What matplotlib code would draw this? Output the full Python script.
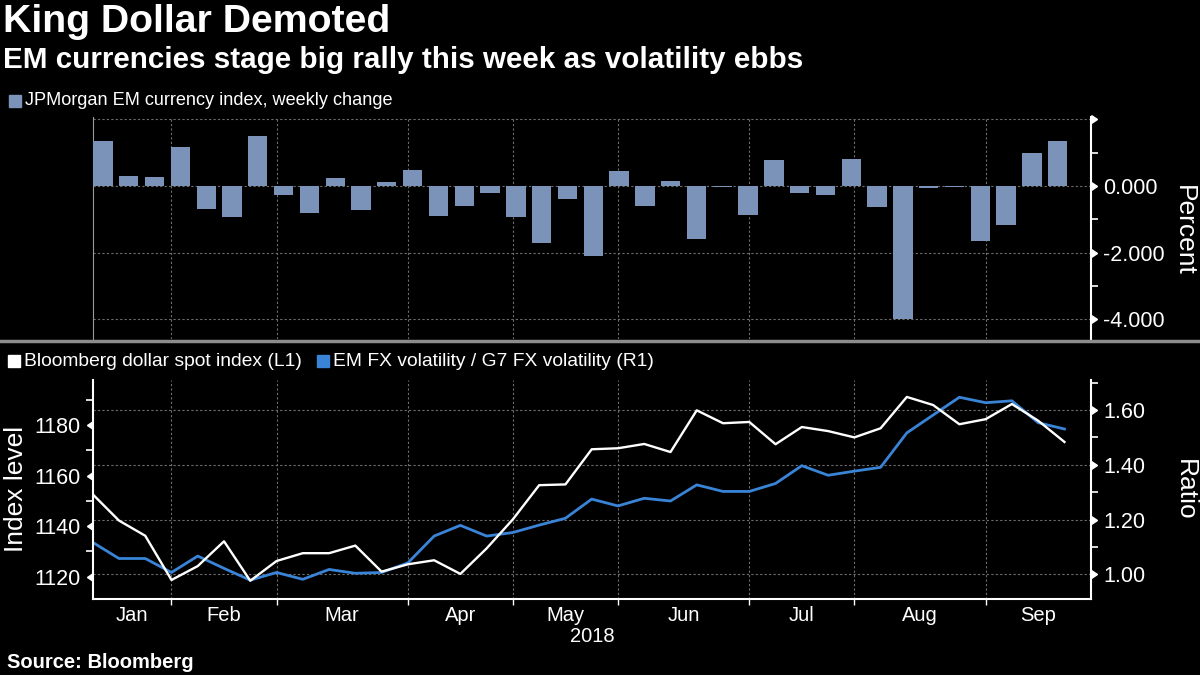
import matplotlib
matplotlib.use('Agg')
import matplotlib.pyplot as plt
import matplotlib.transforms as mtrans
from matplotlib.lines import Line2D
from matplotlib.patches import Rectangle
from matplotlib.ticker import FuncFormatter, FixedLocator
from matplotlib.markers import CARETRIGHTBASE, CARETLEFTBASE
import pandas as pd

# ---------------- data ----------------
weekly_change = [1.35, 0.30, 0.27, 1.17, -0.68, -0.92, 1.50, -0.26,
                 -0.81, 0.24, -0.71, 0.12, 0.48, -0.90, -0.59, -0.20,
                 -0.92, -1.70, -0.38, -2.09, 0.45, -0.59, 0.15, -1.58,
                 -0.02, -0.86, 0.78, -0.20, -0.26, 0.81, -0.62, -4.00,
                 -0.05, -0.02, -1.64, -1.16, 0.99, 1.35]
dollar_index = [1152.6, 1142.2, 1136.2, 1118.7, 1124.2, 1134.0, 1118.4, 1126.2,
                1129.3, 1129.3, 1132.3, 1122.0, 1124.9, 1126.5, 1121.1, 1131.2,
                1142.7, 1156.2, 1156.5, 1170.4, 1170.8, 1172.5, 1169.3, 1185.8,
                1180.7, 1181.2, 1172.4, 1179.2, 1177.6, 1175.1, 1178.7, 1191.1,
                1187.9, 1180.3, 1182.3, 1188.3, 1181.7, 1173.3]
vol_ratio = [1.117, 1.058, 1.058, 1.007, 1.067, 1.022, 0.979, 1.007,
             0.982, 1.018, 1.004, 1.007, 1.042, 1.140, 1.179, 1.140,
             1.153, 1.180, 1.205, 1.275, 1.250, 1.278, 1.268, 1.327,
             1.303, 1.303, 1.332, 1.397, 1.362, 1.377, 1.391, 1.517,
             1.582, 1.647, 1.627, 1.634, 1.554, 1.531]
month_labels = ['Jan', 'Feb', 'Mar', 'Apr', 'May', 'Jun', 'Jul', 'Aug', 'Sep']
dates = pd.date_range('2018-01-05', periods=len(vol_ratio), freq='7D')

pct_ticks = [2, 0, -2, -4]
pct_minor = [1, -1, -3]
idx_ticks = [1120, 1140, 1160, 1180]
idx_minor = [1130, 1150, 1170, 1190]
ratio_ticks = [1.0, 1.2, 1.4, 1.6]
ratio_minor = [1.1, 1.3, 1.5, 1.7]

# ---------------- style ----------------
plt.rcParams['font.family'] = ['Liberation Sans', 'DejaVu Sans']
BG = 'black'
BAR_C = '#7b93b8'
BLUE = '#3a84d8'
GRID = '#6e6e6e'
FG = 'white'

W, H = 1200, 675
fig = plt.figure(figsize=(W / 100, H / 100), dpi=100, facecolor=BG)


def fx(px):
    return px / W


def fy(py):
    return 1 - py / H


left_px, right_px = 92.7, 1090.7
ax_top = fig.add_axes([fx(left_px), fy(338.7), fx(right_px - left_px), (338.7 - 117) / H])
ax_main = fig.add_axes([fx(left_px), fy(599.3), fx(right_px - left_px), (599.3 - 380) / H])
for a in (ax_top, ax_main):
    a.set_facecolor(BG)

n = len(vol_ratio)
xs = list(range(n))
boundaries = [i for i in range(n - 1) if dates[i].month != dates[i + 1].month]
edges = [0] + boundaries + [n]
mids = [(edges[k] + edges[k + 1]) / 2 for k in range(len(edges) - 1)]

TICK_FS = 15.5


def caret_ticks(ax, values, side):
    tr = mtrans.blended_transform_factory(ax.transAxes, ax.transData)
    xpos = 1.0 if side == 'right' else 0.0
    mk = CARETRIGHTBASE if side == 'right' else CARETLEFTBASE
    ax.plot([xpos] * len(values), values, linestyle='none', marker=mk, markersize=6,
            color=FG, transform=tr, clip_on=False, zorder=6)


# ---------------- top panel: bars ----------------
ax_top.bar(xs, weekly_change, width=0.75, color=BAR_C, zorder=3)
ax_top.set_xlim(-0.399, 38.28)
ax_top.set_ylim(-4.58, 2.07)
ax_top.yaxis.tick_right()
ax_top.set_yticks(pct_ticks)
ax_top.yaxis.set_minor_locator(FixedLocator(pct_minor))
ax_top.yaxis.set_major_formatter(FuncFormatter(lambda v, p: '' if v > 1 else f'{v:.3f}'))
ax_top.tick_params(axis='y', which='major', colors=FG, labelsize=TICK_FS, length=0, pad=9)
ax_top.tick_params(axis='y', which='minor', colors=FG, length=5, width=1.2)
ax_top.set_xticks([])
ax_top.grid(axis='y', color=GRID, linestyle=(0, (2, 2)), linewidth=0.8, zorder=0)
for s in ('top', 'bottom'):
    ax_top.spines[s].set_visible(False)
ax_top.spines['right'].set_color(FG)
ax_top.spines['right'].set_linewidth(1.5)
ax_top.spines['left'].set_color('#9a9a9a')
ax_top.spines['left'].set_linewidth(0.8)
caret_ticks(ax_top, pct_ticks, 'right')

blend = mtrans.blended_transform_factory(ax_main.transData, ax_top.transAxes)
for b in boundaries:
    ax_top.add_artist(Line2D([b, b], [0, 1], transform=blend, color=GRID,
                             linestyle=(0, (2, 2)), linewidth=0.8, zorder=0))

# ---------------- bottom panel: lines ----------------
ax_main.plot(xs, vol_ratio, color=BLUE, linewidth=2.0, zorder=3)
ax_main.set_xlim(0, n)
ax_main.set_ylim(0.909, 1.71)
ax_main.set_xticks(boundaries)
ax_main.set_xticklabels([])
ax_main.set_xticks(mids, minor=True)
ax_main.set_xticklabels(month_labels, minor=True)
ax_main.tick_params(axis='x', which='major', colors=FG, length=4, width=1)
ax_main.tick_params(axis='x', which='minor', colors=FG, length=0, labelsize=14.5, pad=5)
ax_main.grid(axis='both', which='major', color=GRID, linestyle=(0, (2, 2)), linewidth=0.8, zorder=0)
ax_main.spines['top'].set_visible(False)
ax_main.spines['left'].set_visible(False)
ax_main.spines['right'].set_color(FG)
ax_main.spines['right'].set_linewidth(1.5)
ax_main.spines['bottom'].set_color(FG)
ax_main.spines['bottom'].set_linewidth(1.5)

ax_idx = ax_main.twinx()
ax_idx.plot(xs, dollar_index, color=FG, linewidth=1.7, zorder=4)
ax_idx.set_ylim(1111.06, 1197.8)
ax_idx.yaxis.tick_left()
ax_idx.set_yticks(idx_ticks)
ax_idx.yaxis.set_minor_locator(FixedLocator(idx_minor))
ax_idx.yaxis.set_major_formatter(FuncFormatter(lambda v, p: f'{v:.0f}'))
ax_idx.tick_params(axis='y', which='major', colors=FG, labelsize=TICK_FS, length=0, pad=9)
ax_idx.tick_params(axis='y', which='minor', colors=FG, length=5, width=1.2)
for s in ('top', 'right', 'bottom'):
    ax_idx.spines[s].set_visible(False)
ax_idx.spines['left'].set_color(FG)
ax_idx.spines['left'].set_linewidth(1.5)
caret_ticks(ax_idx, idx_ticks, 'left')

# ratio axis on the right (after twinx, which moves host ticks left)
ax_main.yaxis.tick_right()
ax_main.set_yticks(ratio_ticks)
ax_main.yaxis.set_minor_locator(FixedLocator(ratio_minor))
ax_main.yaxis.set_major_formatter(FuncFormatter(lambda v, p: f'{v:.2f}'))
ax_main.tick_params(axis='y', which='major', colors=FG, labelsize=TICK_FS, length=0, pad=9)
ax_main.tick_params(axis='y', which='minor', colors=FG, length=5, width=1.2)
caret_ticks(ax_main, ratio_ticks, 'right')

# ---------------- texts ----------------
fig.text(fx(3), fy(22), 'King Dollar Demoted', color=FG, fontsize=28.3, fontweight='bold', va='center', ha='left')
fig.text(fx(3), fy(60), 'EM currencies stage big rally this week as volatility ebbs', color=FG,
         fontsize=21.3, fontweight='bold', va='center', ha='left')

fig.add_artist(Rectangle((fx(9), fy(106.5)), fx(12), 12 / H, transform=fig.transFigure, color=BAR_C))
fig.text(fx(25), fy(100.5), 'JPMorgan EM currency index, weekly change', color=FG, fontsize=13.1,
         va='center', ha='left')

fig.add_artist(Line2D([0, 1], [fy(341), fy(341)], transform=fig.transFigure, color='#8c8c8c', linewidth=2.5))

fig.add_artist(Rectangle((fx(8), fy(367.5)), fx(12), 12 / H, transform=fig.transFigure, color=FG))
t1 = fig.text(fx(24), fy(361.5), 'Bloomberg dollar spot index (L1)', color=FG, fontsize=13.9,
              va='center', ha='left')
fig.canvas.draw()
end1 = t1.get_window_extent(fig.canvas.get_renderer()).x1
fig.add_artist(Rectangle((fx(end1 + 15), fy(367.5)), fx(12), 12 / H, transform=fig.transFigure, color=BLUE))
fig.text(fx(end1 + 31), fy(361.5), 'EM FX volatility / G7 FX volatility (R1)', color=FG, fontsize=13.9,
         va='center', ha='left')

fig.text(fx(1184), fy(230), 'Percent', color=FG, fontsize=19, rotation=270, va='center', ha='center')
fig.text(fx(1185), fy(490), 'Ratio', color=FG, fontsize=19, rotation=270, va='center', ha='center')
fig.text(fx(16), fy(489), 'Index level', color=FG, fontsize=19, rotation=90, va='center', ha='center')
fig.text(fx(592), fy(637), '2018', color=FG, fontsize=14.5, va='center', ha='center')
fig.text(fx(7), fy(663), 'Source: Bloomberg', color=FG, fontsize=14.5, fontweight='bold', va='center', ha='left')

fig.savefig('out.png', dpi=100, facecolor=BG)
